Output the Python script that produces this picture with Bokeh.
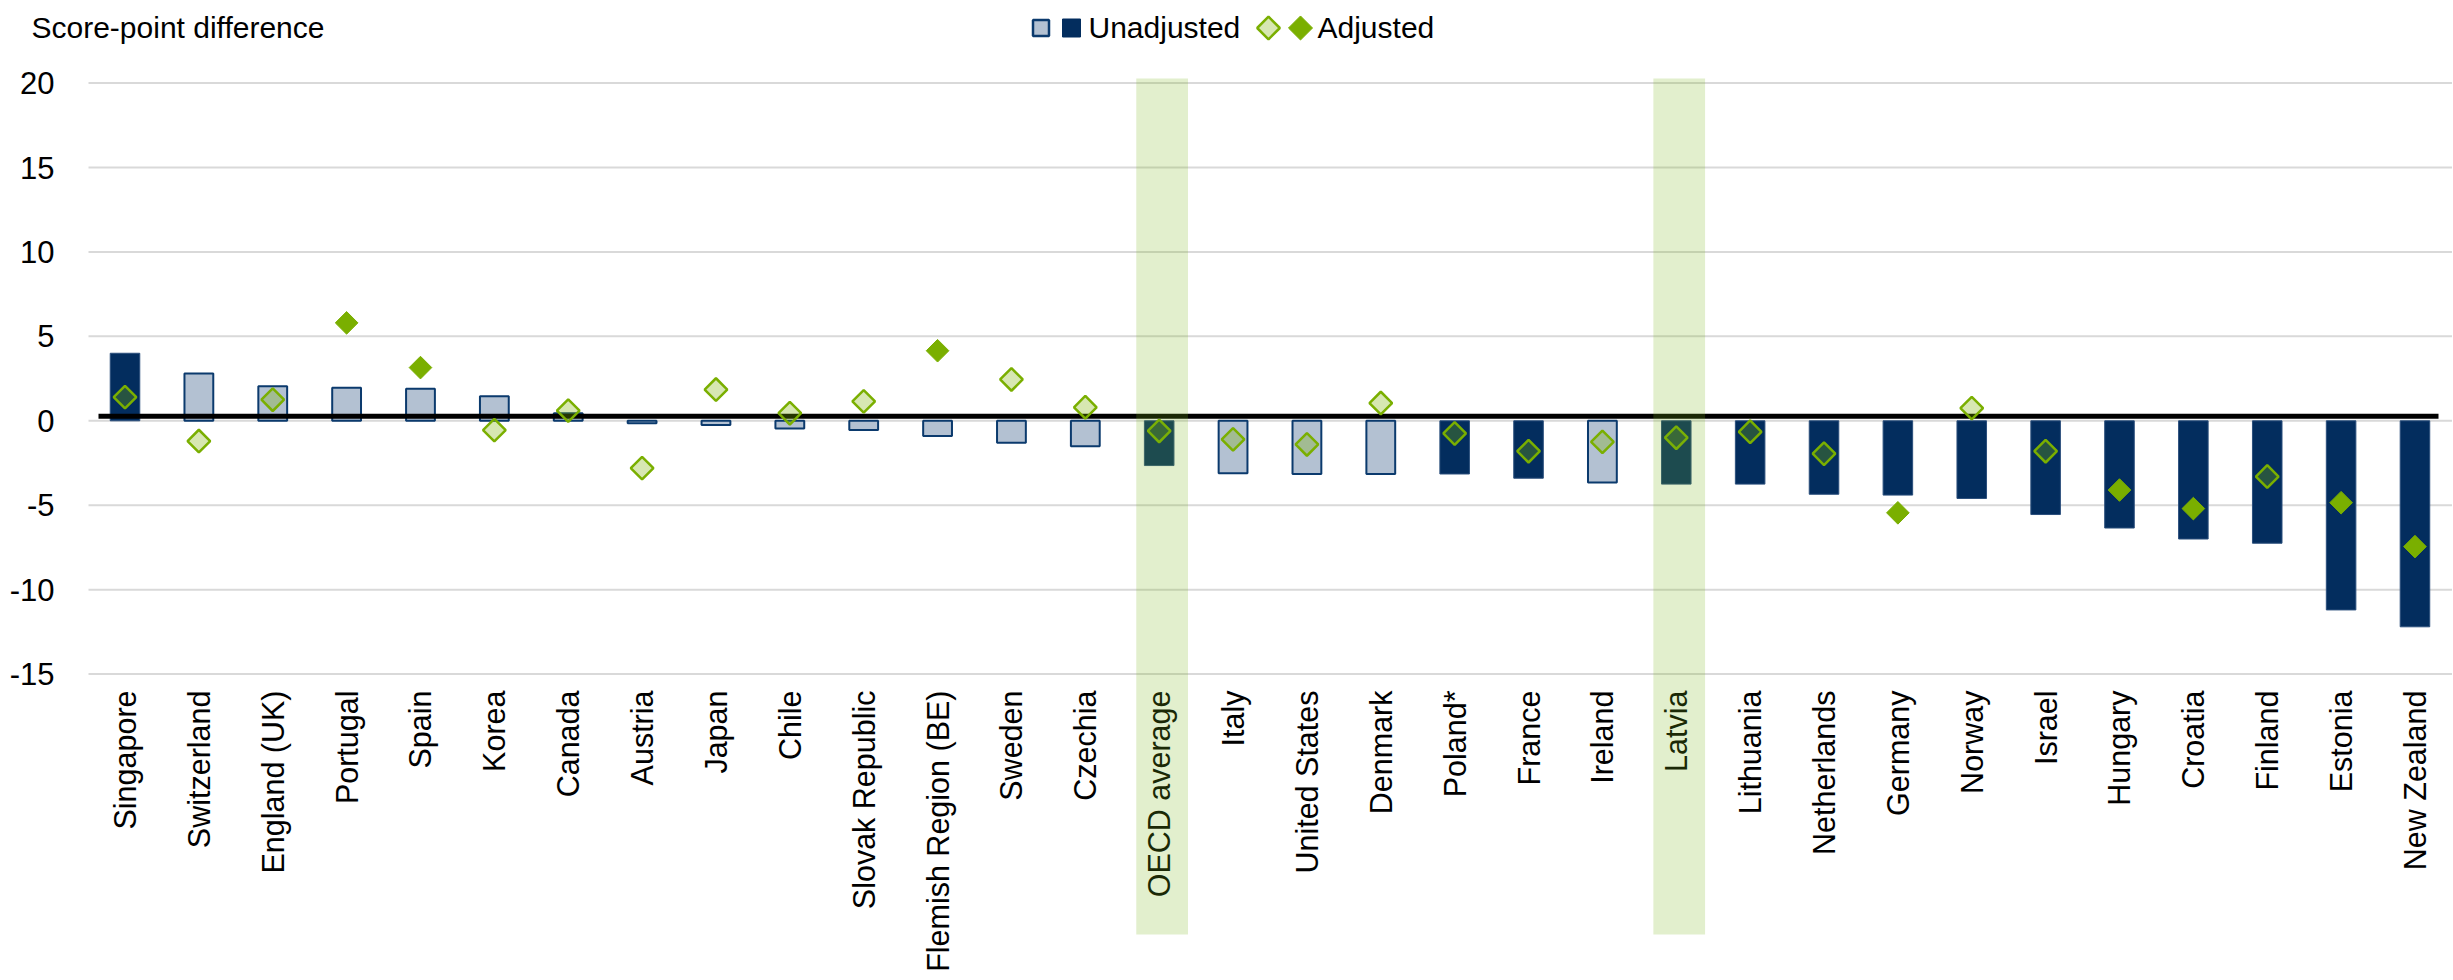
import math
from bokeh.plotting import figure
from bokeh.models import Range1d
from bokeh.core.properties import value
from bokeh.embed import file_html
from bokeh.resources import INLINE

# ---------------- data ----------------
categories = [
    "Singapore", "Switzerland", "England (UK)", "Portugal", "Spain", "Korea",
    "Canada", "Austria", "Japan", "Chile", "Slovak Republic",
    "Flemish Region (BE)", "Sweden", "Czechia", "OECD average", "Italy",
    "United States", "Denmark", "Poland*", "France", "Ireland", "Latvia",
    "Lithuania", "Netherlands", "Germany", "Norway", "Israel", "Hungary",
    "Croatia", "Finland", "Estonia", "New Zealand",
]
unadjusted = [4.0, 2.8, 2.05, 1.95, 1.9, 1.45, 0.45, -0.15, -0.25, -0.45, -0.55,
              -0.9, -1.3, -1.5, -2.65, -3.1, -3.15, -3.15, -3.15, -3.4, -3.65,
              -3.75, -3.75, -4.35, -4.4, -4.6, -5.55, -6.35, -7.0, -7.25,
              -11.2, -12.2]
unadjusted_significant = [True, False, False, False, False, False, False, False,
                          False, False, False, False, False, False, True, False,
                          False, False, True, True, False, True, True, True,
                          True, True, True, True, True, True, True, True]
adjusted = [1.4, -1.2, 1.25, 5.8, 3.15, -0.55, 0.6, -2.8, 1.85, 0.45, 1.15,
            4.15, 2.45, 0.8, -0.6, -1.1, -1.4, 1.05, -0.75, -1.8, -1.25, -1.0,
            -0.65, -1.95, -5.45, 0.75, -1.8, -4.1, -5.2, -3.3, -4.85, -7.45]
adjusted_significant = [False, False, False, True, True, False, False, False,
                        False, False, False, True, False, False, False, False,
                        False, False, False, False, False, False, False, False,
                        True, False, False, True, True, False, True, True]
y_ticks = [20, 15, 10, 5, 0, -5, -10, -15]
highlighted = ["OECD average", "Latvia"]
title_text = "Score-point difference"
legend_labels = ["Unadjusted", "Adjusted"]

# ---------------- layout / style ----------------
W, H = 2452, 978
PAGE = 0                   # Bokeh's page template has no body margin
X0, DX = 124.5, 73.87      # page x of first category centre, step per category
Y0, DY = 420.3, 16.886     # page y of value 0, pixels per score point


def dx(px):
    return (px - X0) / DX


def dy(py):
    return (Y0 - py) / DY


NAVY = "#032d5e"
NAVY_LINE = "#0b3a6d"
LIGHT_BAR = "#b3c1d2"
GREEN = "#7aaf00"
BAND = "#7cb41b"
GRID = "#d9d9d9"
SANS = value("Liberation Sans")

p = figure(width=W, height=H, output_backend="svg", toolbar_location=None,
           x_range=Range1d(dx(PAGE), dx(PAGE + W)),
           y_range=Range1d(dy(PAGE + H), dy(PAGE)),
           x_axis_location=None, y_axis_location=None, min_border=0)
p.xgrid.visible = False
p.ygrid.visible = False
p.outline_line_color = None
p.background_fill_color = "white"

# grid lines
p.segment(x0=dx(88), x1=dx(2452), y0=y_ticks, y1=y_ticks,
          line_color=GRID, line_width=2)

idx = list(range(len(categories)))

# bars
lx = [i for i in idx if not unadjusted_significant[i]]
dxs = [i for i in idx if unadjusted_significant[i]]
p.vbar(x=lx, top=[unadjusted[i] for i in lx], bottom=0, width=0.39,
       fill_color=LIGHT_BAR, line_color=NAVY_LINE, line_width=2)
p.vbar(x=dxs, top=[unadjusted[i] for i in dxs], bottom=0, width=0.40,
       fill_color=NAVY, line_color="#2b4f7c", line_width=1)

# zero line
p.segment(x0=dx(98), x1=dx(2438), y0=dy(415.8), y1=dy(415.8),
          line_color="black", line_width=5)

# adjusted markers
hx = [i for i in idx if not adjusted_significant[i]]
fx = [i for i in idx if adjusted_significant[i]]
p.scatter(x=hx, y=[adjusted[i] for i in hx], marker="square", angle=math.pi / 4,
          size=16, fill_color=GREEN, fill_alpha=0.3, line_color=GREEN,
          line_width=2.5)
p.scatter(x=fx, y=[adjusted[i] for i in fx], marker="square", angle=math.pi / 4,
          size=16, fill_color=GREEN, line_color=GREEN, line_width=1)

# y tick labels
p.text(x=dx(54), y=y_ticks, text=[str(t) for t in y_ticks], text_align="right",
       text_baseline="middle", text_font=SANS, text_font_size=value("31px"),
       text_color="black")

# category labels
p.text(x=idx, y=dy(690), text=categories, angle=math.pi / 2, text_align="right",
       text_baseline="middle", text_font=SANS, text_font_size=value("30.5px"),
       text_color="black")

# title
p.text(x=dx(31), y=dy(27), text=[title_text], text_align="left",
       text_baseline="middle", text_font=SANS, text_font_size=value("30px"),
       text_color="black")

# legend
ly = dy(27.5)
p.scatter(x=[dx(1040.5)], y=[ly], marker="square", size=16,
          fill_color=LIGHT_BAR, line_color=NAVY_LINE, line_width=2.5)
p.scatter(x=[dx(1071)], y=[ly], marker="square", size=18,
          fill_color=NAVY, line_color=NAVY)
p.text(x=[dx(1088)], y=[dy(27)], text=[legend_labels[0]], text_align="left",
       text_baseline="middle", text_font=SANS, text_font_size=value("30px"),
       text_color="black")
p.scatter(x=[dx(1268)], y=[ly], marker="square", angle=math.pi / 4, size=16,
          fill_color=GREEN, fill_alpha=0.3, line_color=GREEN, line_width=2.5)
p.scatter(x=[dx(1300)], y=[ly], marker="square", angle=math.pi / 4, size=17,
          fill_color=GREEN, line_color=GREEN)
p.text(x=[dx(1317)], y=[dy(27)], text=[legend_labels[1]], text_align="left",
       text_baseline="middle", text_font=SANS, text_font_size=value("30px"),
       text_color="black")

# highlight bands (drawn on top, translucent)
p.vbar(x=[categories.index(h) + 0.04 for h in highlighted], top=dy(78),
       bottom=dy(934), width=0.70, fill_color=BAND, fill_alpha=0.22,
       line_color=None)

open("out.html", "w").write(file_html(p, INLINE))
